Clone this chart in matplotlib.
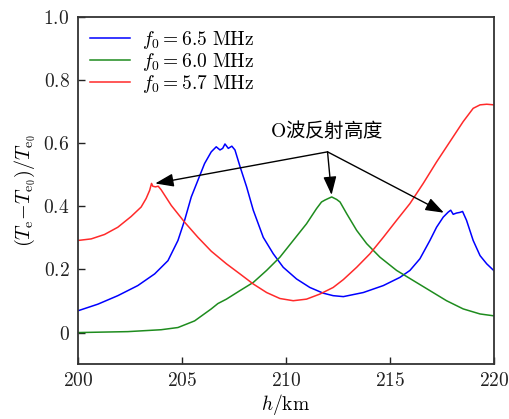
import matplotlib.pyplot as plt
from matplotlib.ticker import FuncFormatter

plt.rcParams['mathtext.fontset'] = 'cm'
plt.rcParams['font.family'] = ['DejaVu Serif', 'Noto Sans CJK SC']

# f0 = 6.5 MHz
h_blue = [200.0, 200.96, 201.92, 202.88, 203.69, 204.33, 204.81, 205.13, 205.45, 205.77,
          206.09, 206.41, 206.65, 206.83, 206.96, 207.07, 207.23, 207.4, 207.55,
          207.8, 208.11, 208.43, 208.91, 209.39, 209.87, 210.51, 211.15, 211.79,
          212.27, 212.76, 213.72, 214.68, 215.48, 215.96, 216.44, 216.92, 217.24,
          217.56, 217.8, 217.92, 218.04, 218.2, 218.36, 218.49, 218.68, 219.0,
          219.33, 219.65, 220.0]
te_blue = [0.069, 0.09, 0.117, 0.149, 0.186, 0.228, 0.292, 0.356, 0.43, 0.483,
           0.536, 0.573, 0.589, 0.579, 0.584, 0.598, 0.584, 0.591, 0.579,
           0.525, 0.462, 0.388, 0.302, 0.25, 0.207, 0.17, 0.143, 0.125,
           0.117, 0.114, 0.127, 0.149, 0.175, 0.197, 0.234, 0.292, 0.334,
           0.366, 0.382, 0.388, 0.375, 0.379, 0.381, 0.384, 0.356, 0.292,
           0.244, 0.218, 0.196]

# f0 = 6.0 MHz
h_green = [200.0, 202.4, 204.0, 204.81, 205.61, 206.41, 206.73, 207.14, 207.79, 208.43,
           209.07, 209.71, 210.35, 210.99, 211.47, 211.71, 211.87, 212.03, 212.2,
           212.44, 212.6, 212.92, 213.4, 213.88, 214.52, 215.32, 216.12, 216.92,
           217.72, 218.52, 219.33, 220.0]
te_green = [0.0, 0.003, 0.009, 0.016, 0.037, 0.075, 0.092, 0.106, 0.133, 0.159,
            0.197, 0.239, 0.292, 0.345, 0.393, 0.414, 0.42, 0.425, 0.43,
            0.422, 0.414, 0.377, 0.324, 0.282, 0.239, 0.197, 0.165, 0.133,
            0.101, 0.075, 0.059, 0.053]

# f0 = 5.7 MHz
h_red = [200.0, 200.64, 201.28, 201.92, 202.56, 203.04, 203.28, 203.45, 203.54, 203.6,
         203.73, 203.86, 204.0, 204.49, 205.13, 205.77, 206.41, 207.14, 207.79,
         208.43, 209.07, 209.71, 210.35, 210.99, 211.63, 212.27, 212.76, 213.4,
         214.04, 214.68, 215.32, 215.96, 216.6, 217.24, 217.88, 218.52, 219.0,
         219.33, 219.65, 220.0]
te_red = [0.292, 0.297, 0.311, 0.334, 0.368, 0.398, 0.425, 0.451, 0.473, 0.464,
          0.462, 0.464, 0.453, 0.403, 0.35, 0.302, 0.258, 0.218, 0.186,
          0.154, 0.127, 0.108, 0.101, 0.106, 0.122, 0.143, 0.168, 0.207,
          0.25, 0.302, 0.356, 0.409, 0.473, 0.541, 0.605, 0.669, 0.711,
          0.722, 0.724, 0.722]

labels = [r'$f_0=6.5\ \mathrm{MHz}$', r'$f_0=6.0\ \mathrm{MHz}$', r'$f_0=5.7\ \mathrm{MHz}$']

# reflection heights pointed at by the arrows
refl_h = [203.65, 212.2, 217.65]
refl_te = [0.472, 0.432, 0.378]

fig = plt.figure(figsize=(5.09, 4.19), dpi=100)
ax = fig.add_axes([0.153, 0.131, 0.8175, 0.828])

ax.plot(h_blue, te_blue, color='#0000ff', lw=1.1, label=labels[0])
ax.plot(h_green, te_green, color='#1e8c1e', lw=1.1, label=labels[1])
ax.plot(h_red, te_red, color='#ff2a2a', lw=1.1, label=labels[2])

ax.set_xlim(200, 220)
ax.set_ylim(-0.1, 1.0)
ax.set_xticks([200, 205, 210, 215, 220])
ax.set_yticks([0, 0.2, 0.4, 0.6, 0.8, 1.0])
ax.xaxis.set_major_formatter(FuncFormatter(lambda v, p: f'${v:.0f}$'))
ax.yaxis.set_major_formatter(FuncFormatter(lambda v, p: '$0$' if abs(v) < 1e-9 else f'${v:.1f}$'))
ax.tick_params(direction='in', length=5, width=1.0, labelsize=14, colors='#222222', pad=6)
for s in ax.spines.values():
    s.set_linewidth(1.3)
    s.set_color('#333333')

ax.set_xlabel(r'$h/\mathrm{km}$', fontsize=14, labelpad=1)
ax.set_ylabel(r'$(T_\mathrm{e}\!-\!T_{\mathrm{e}_0})/T_{\mathrm{e}_0}$', fontsize=14.5, labelpad=4)

ax.legend(loc='upper left', frameon=False, fontsize=14, handlelength=2.1,
          handletextpad=0.6, borderaxespad=0.5, labelspacing=0.0,
          borderpad=0.1)

ax.text(211.97, 0.64, r'$\mathrm{O}$波反射高度', fontsize=14, ha='center', va='center',
        family=['Noto Sans CJK SC', 'DejaVu Sans'])
for hx, ty in zip(refl_h, refl_te):
    ax.annotate('', xy=(hx, ty), xytext=(212.0, 0.573),
                arrowprops=dict(arrowstyle='-|>,head_length=0.7,head_width=0.25',
                                color='black', lw=1.0, mutation_scale=16,
                                shrinkA=0, shrinkB=1))

fig.savefig('out.png', dpi=100)
